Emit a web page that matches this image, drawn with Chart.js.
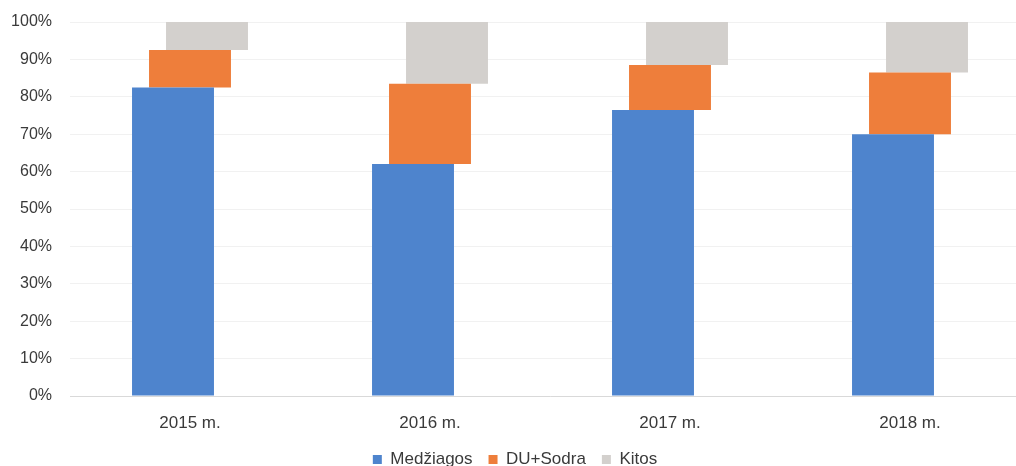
<!DOCTYPE html>
<html>
<head>
<meta charset="utf-8">
<script src="https://cdn.jsdelivr.net/npm/chart.js@4/dist/chart.umd.min.js"></script>
<style>
  html, body { margin:0; padding:0; background:#fff; overflow:hidden; }
  #wrap { width:1054px; height:466px; }
</style>
</head>
<body>
<div id="wrap"><canvas id="chart" width="1054" height="466"></canvas></div>
<script>
/* data (percent of total) */
const years     = ['2015 m.', '2016 m.', '2017 m.', '2018 m.'];
const medziagos = [82.5, 62, 76.5, 70];
const duSodra   = [10, 21.5, 12, 16.5];
const kitos     = [7.5, 16.5, 11.5, 13.5];

const textColor = '#3a3a3a';
const fontFam = "'Liberation Sans','DejaVu Sans',sans-serif";

new Chart(document.getElementById('chart'), {
  type: 'bar',
  data: {
    labels: years,
    datasets: [
      { label: 'Medžiagos', data: medziagos, backgroundColor: '#4e84cd' },
      { label: 'DU+Sodra',  data: duSodra,   backgroundColor: '#ee7e3b' },
      { label: 'Kitos',     data: kitos,     backgroundColor: '#d3d0cd' },
    ],
  },
  options: {
    responsive: false,
    animation: false,
    // x not stacked -> each series gets its own (narrow) slot, bars overflow it so they overlap like the original
    categoryPercentage: 0.2125,
    barPercentage: 4.82,
    // negative bottom padding pulls the legend close to the canvas edge
    layout: { padding: { top: 22, right: 24, left: 0, bottom: -12 } },
    plugins: {
      legend: {
        position: 'bottom',
        labels: {
          boxWidth: 9, boxHeight: 9, padding: 16,
          color: textColor,
          font: { family: fontFam, size: 17 },
        },
      },
      tooltip: { enabled: false },
    },
    scales: {
      x: {
        stacked: false,
        grid: { display: false, drawTicks: false },
        border: { color: '#d9d9d9', width: 1 },
        ticks: { color: textColor, font: { family: fontFam, size: 17 }, padding: 17 },
        afterFit: s => { s.height = 39; },
      },
      y: {
        stacked: true,
        min: 0, max: 100,
        ticks: {
          stepSize: 10,
          color: textColor,
          font: { family: fontFam, size: 16 },
          padding: 18,
          callback: v => v + '%',
        },
        grid: { color: '#f1f1f1', drawTicks: false },
        border: { display: false },
        afterFit: s => { s.width = 70; s.paddingTop = 0; },
      },
    },
  },
});
</script>
</body>
</html>
